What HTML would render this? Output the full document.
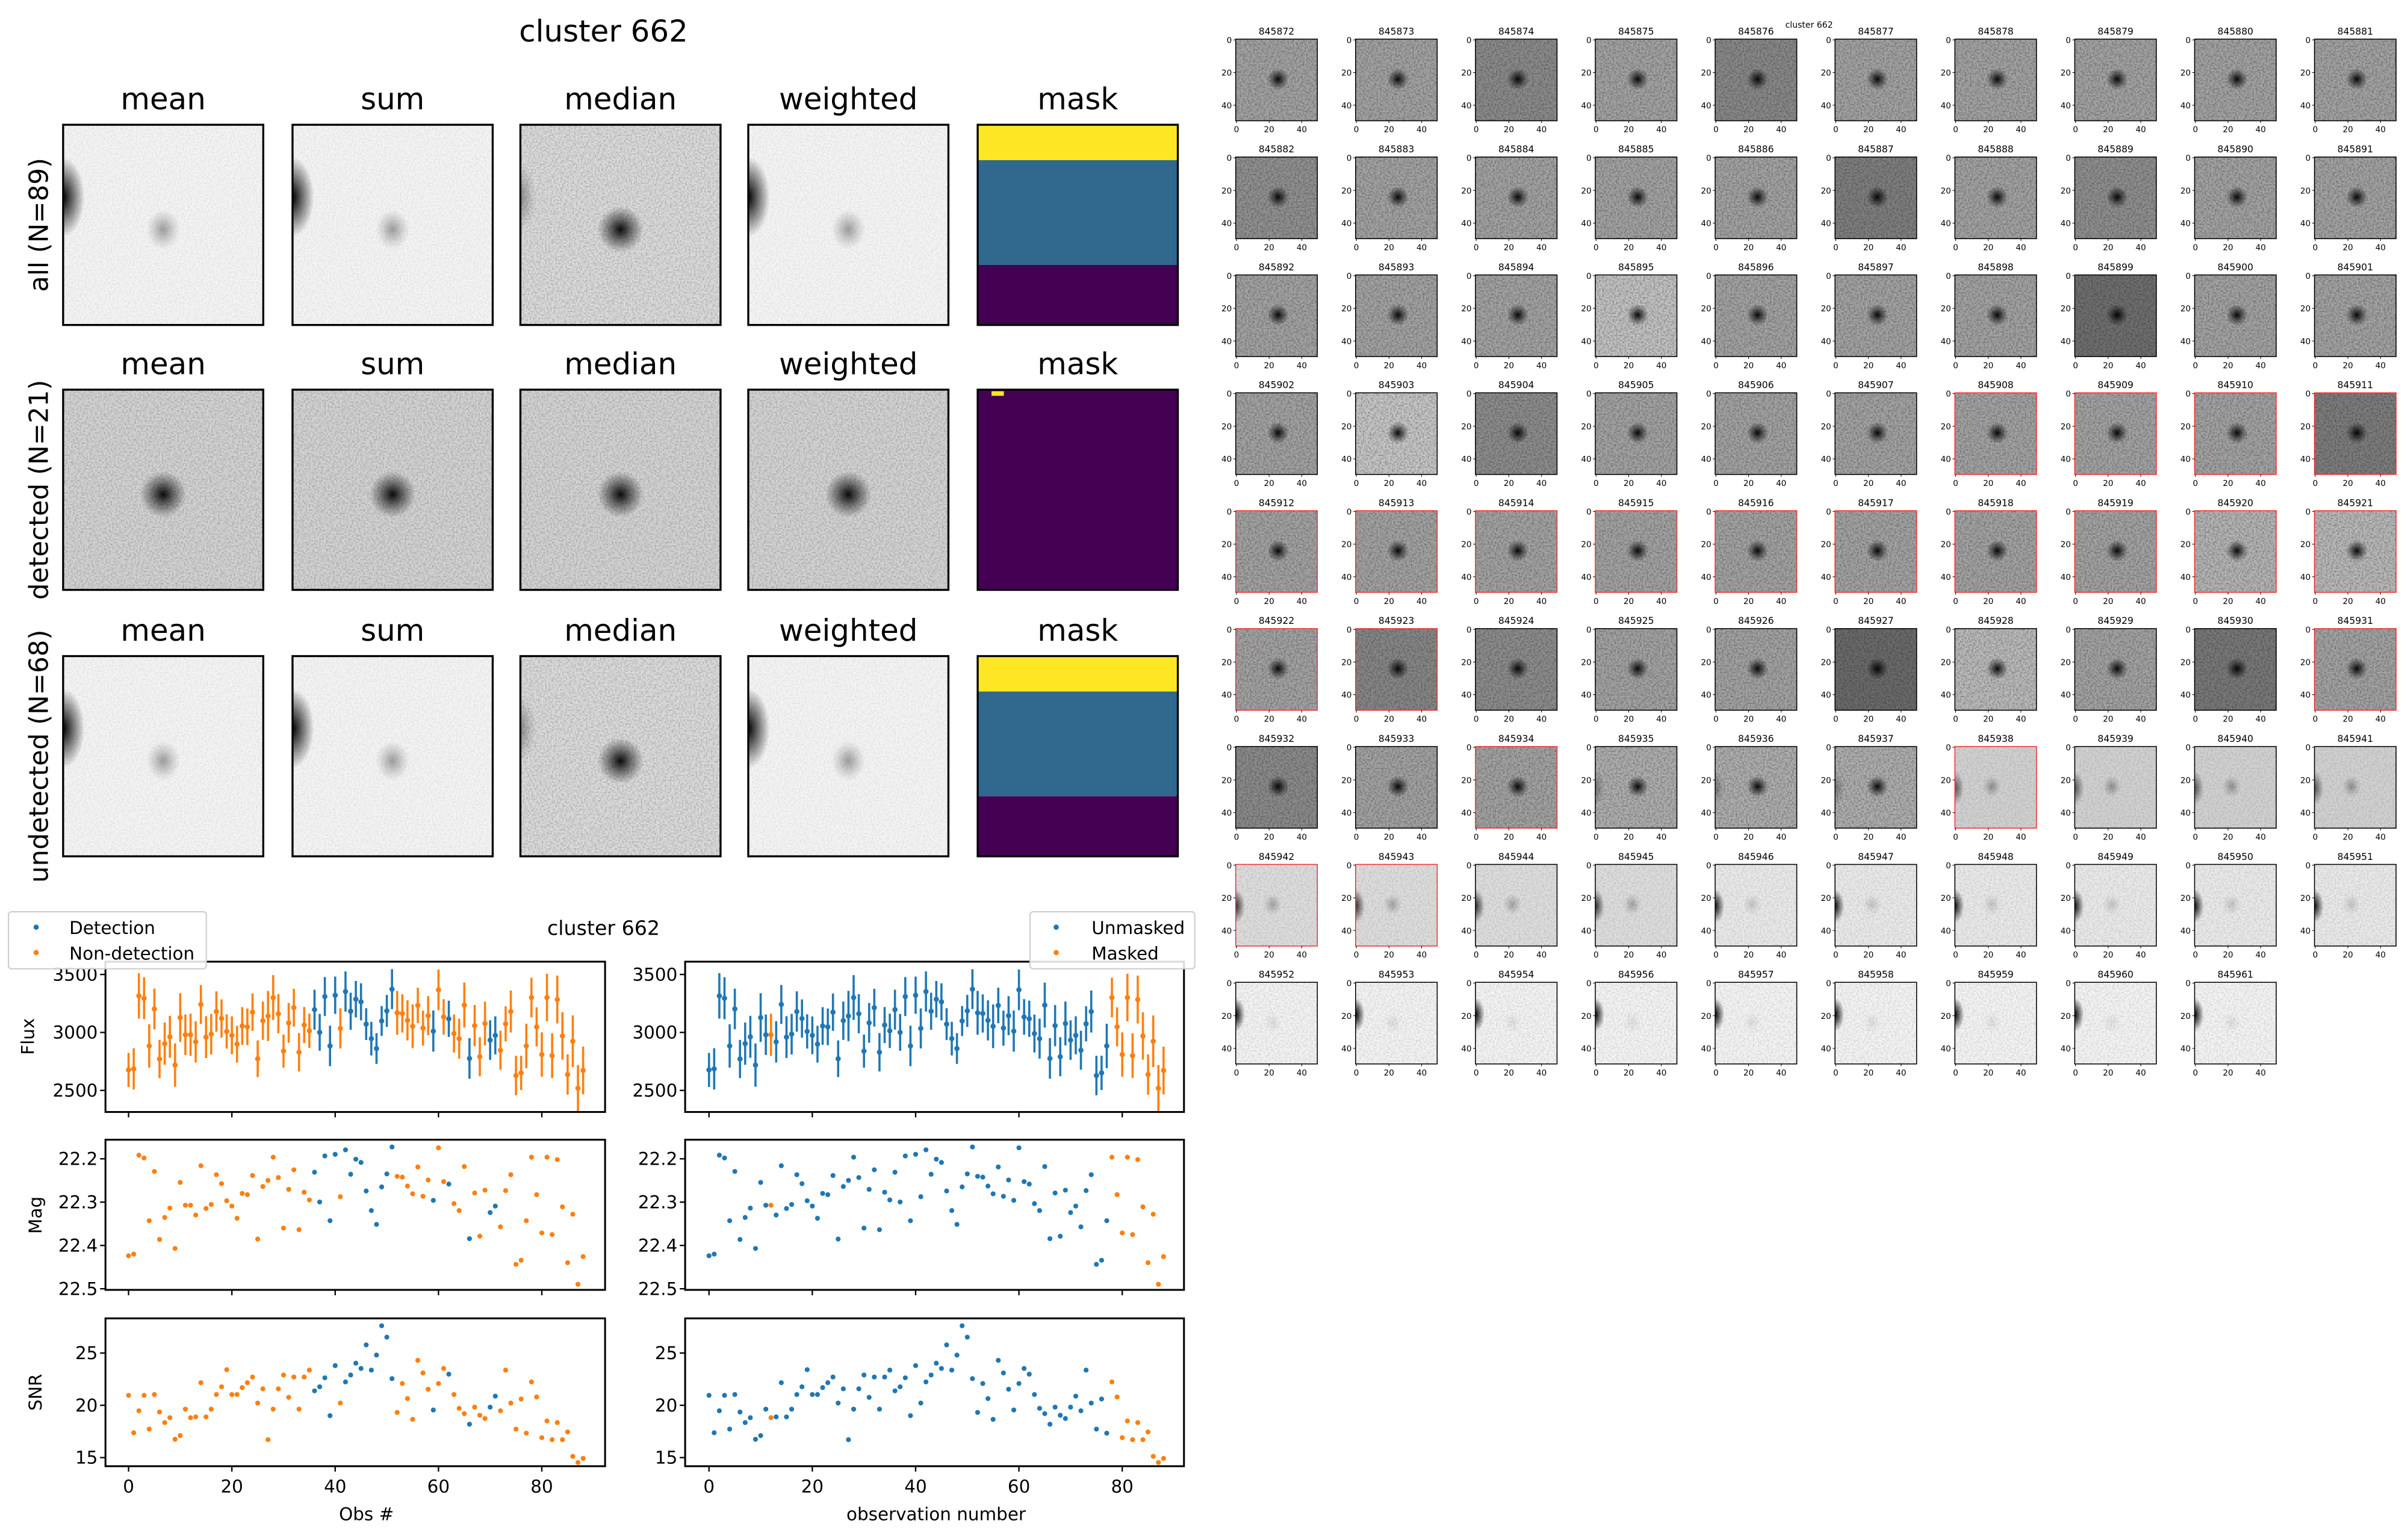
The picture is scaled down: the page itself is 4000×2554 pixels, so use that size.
<!DOCTYPE html>
<html><head><meta charset="utf-8"><style>html,body{margin:0;padding:0;background:#fff}svg{display:block}</style></head>
<body>
<svg id="s" xmlns="http://www.w3.org/2000/svg" width="4000" height="2554" viewBox="0 0 1564 998.6" font-family="DejaVu Sans, Liberation Sans, sans-serif">
<defs>
<radialGradient id="blobD"><stop offset="0" stop-color="#000" stop-opacity="0.95"/><stop offset="0.5" stop-color="#000" stop-opacity="0.45"/><stop offset="1" stop-color="#000" stop-opacity="0"/></radialGradient>
<radialGradient id="blobF"><stop offset="0" stop-color="#000" stop-opacity="0.35"/><stop offset="0.6" stop-color="#000" stop-opacity="0.12"/><stop offset="1" stop-color="#000" stop-opacity="0"/></radialGradient>
<radialGradient id="edge"><stop offset="0" stop-color="#000" stop-opacity="1"/><stop offset="0.5" stop-color="#000" stop-opacity="0.5"/><stop offset="1" stop-color="#000" stop-opacity="0"/></radialGradient>
<filter id="nz" x="0" y="0" width="1" height="1"><feTurbulence type="fractalNoise" baseFrequency="0.9" numOctaves="1" seed="3"/><feColorMatrix type="matrix" values="0 0 0 0 0  0 0 0 0 0  0 0 0 0 0  1.2 0 0 0 -0.45"/></filter>
</defs>
<g id="root"></g>
</svg>
<script>
const root=document.getElementById('root');
let H='',cid=0;
function t(x,y,s,str,anchor,extra){H+=`<text x="${x}" y="${y}" font-size="${s}" text-anchor="${anchor||'middle'}" ${extra||''}>${str}</text>`;}
function clip(x,y,w,h){cid++;H+=`<clipPath id="c${cid}"><rect x="${x}" y="${y}" width="${w}" height="${h}"/></clipPath>`;return `clip-path="url(#c${cid})"`;}
// ---- top-left panel
t(392,27,19.5,'cluster 662');
const cols=[41,190,338,486,635],names=['mean','sum','median','weighted','mask'];
const rows=[81,253,426],rl=['all (N=89)','detected (N=21)','undetected (N=68)'];
rows.forEach((y,ri)=>{
 cols.forEach((x,ci)=>{
  t(x+65,y-10,19.5,names[ci]);
  const w=130,h=130;
  if(ci==4){
   if(ri==1){H+=`<rect x="${x}" y="${y}" width="${w}" height="${h}" fill="#440154"/><rect x="644" y="254" width="8" height="3" fill="#fde725"/>`;}
   else{H+=`<rect x="${x}" y="${y}" width="${w}" height="23" fill="#fde725"/><rect x="${x}" y="${y+23}" width="${w}" height="68" fill="#31688e"/><rect x="${x}" y="${y+91}" width="${w}" height="39" fill="#440154"/>`;}
  } else {
   const light=(ri!=1&&ci!=2);
   const bg=light?'#f4f4f4':(ri==1?'#d4d4d4':'#dcdcdc');
   const cp=clip(x,y,w,h);
   H+=`<g ${cp}><rect x="${x}" y="${y}" width="${w}" height="${h}" fill="${bg}"/>`;
   H+=`<rect x="${x}" y="${y}" width="${w}" height="${h}" filter="url(#nz)" opacity="${light?0.15:0.4}"/>`;
   if(light){H+=`<ellipse cx="${x}" cy="${y+47}" rx="14" ry="26" fill="url(#edge)"/><ellipse cx="${x+65}" cy="${y+68}" rx="11" ry="13" fill="url(#blobF)"/>`;}
   else{H+=`<ellipse cx="${x+65}" cy="${y+68}" rx="15" ry="15" fill="url(#blobD)"/>`; if(ri!=1)H+=`<ellipse cx="${x}" cy="${y+47}" rx="10" ry="22" fill="url(#blobF)"/>`;}
   H+=`</g>`;
  }
  H+=`<rect x="${x}" y="${y}" width="${w}" height="${h}" fill="none" stroke="#000" stroke-width="1.3"/>`;
 });
 t(0,0,17,rl[ri],'middle',`transform="translate(31,${y+65}) rotate(-90)"`);
});
// ---- thumbnails
t(1175,18,5.5,'cluster 662');
let ids=[];for(let i=845872;i<=845951;i++)ids.push(i);[845952,845953,845954,845956,845957,845958,845959,845960,845961].forEach(v=>ids.push(v));
const red=new Set([845908,845909,845910,845911,845912,845913,845914,845915,845916,845917,845918,845919,845920,845921,845922,845923,845931,845934,845938,845942,845943]);
const dark={845874:'#8c8c8c',845876:'#8a8a8a',845887:'#808080',845899:'#707070',845911:'#7e7e7e',845927:'#6c6c6c',845930:'#7a7a7a',845923:'#888',845924:'#8e8e8e',845932:'#8c8c8c',845904:'#8e8e8e',845882:'#929292',845889:'#909090',845895:'#c4c4c4',845903:'#c8c8c8',845928:'#bcbcbc',845921:'#bababa',845920:'#b6b6b6'};
ids.forEach((id,k)=>{
 const r=Math.floor(k/10),c=k%10;const x=802.6+c*77.85,y=25.4+r*76.55,w=53,h=53;
 let bg=dark[id]||'#a4a4a4',edge=0,blob=1;
 if(id>=845935&&id<=845937){bg='#b0b0b0';edge=0.3;blob=0.6;}
 if(id>=845938&&id<=845941){bg='#d2d2d2';edge=0.6;blob=0.3;}
 if(id>=845942&&id<=845945){bg='#dedede';edge=0.8;blob=0.25;}
 if(id>=845946&&id<=845951){bg='#eaeaea';edge=0.95;blob=0.15;}
 if(id>=845952){bg='#f4f4f4';edge=1;blob=0.08;}
 const ey=id>=845952?y+21:y+27;
 H+=`<text x="${x+26.5}" y="${y-3}" font-size="6.1" text-anchor="middle">${id}</text>`;
 const cp=clip(x,y,w,h);
 H+=`<g ${cp}><rect x="${x}" y="${y}" width="${w}" height="${h}" fill="${bg}"/>`;
 H+=`<rect x="${x}" y="${y}" width="${w}" height="${h}" filter="url(#nz)" opacity="${blob>0.5?0.6:0.25}"/>`;
 if(blob>0.5)H+=`<ellipse cx="${x+27.5}" cy="${y+26}" rx="7" ry="7" fill="url(#blobD)"/>`;
 else H+=`<ellipse cx="${x+24}" cy="${y+26}" rx="6" ry="7" fill="url(#blobF)" opacity="${Math.min(1,blob*3)}"/>`;
 if(edge)H+=`<ellipse cx="${x}" cy="${ey}" rx="6" ry="11" fill="url(#edge)" opacity="${edge}"/>`;
 H+=`</g><rect x="${x}" y="${y}" width="${w}" height="${h}" fill="none" stroke="${red.has(id)?'#e33':'#000'}" stroke-width="0.6"/>`;
 [0,20,40].forEach(v=>{const yy=y+0.5+v*1.06,xx=x+0.5+v*1.06;
  H+=`<line x1="${x-1.5}" x2="${x}" y1="${yy}" y2="${yy}" stroke="#000" stroke-width="0.4"/><text x="${x-2.5}" y="${yy+2}" font-size="5.3" text-anchor="end">${v}</text>`;
  H+=`<line x1="${xx}" x2="${xx}" y1="${y+h}" y2="${y+h+1.5}" stroke="#000" stroke-width="0.4"/><text x="${xx}" y="${y+h+7.5}" font-size="5.3" text-anchor="middle">${v}</text>`;});
});
// ---- light curves
const mz=[866,862,619,626,780,659,826,772,749,848,686,742,742,766,645,750,740,667,689,731,744,774,713,716,669,825,696,681,624,674,798,703,655,802,710,729,661,734,621,780,617,721,606,666,629,637,707,755,789,697,665,599,671,673,695,714,648,720,680,730,601,684,690,738,755,647,824,712,818,705,760,744,795,706,667,887,877,780,624,716,810,624,814,630,746,883,764,936,868];
const sz=[1209,1301,1247,1209,1292,1207,1250,1276,1264,1317,1308,1243,1264,1262,1178,1262,1243,1207,1188,1146,1207,1207,1190,1178,1164,1228,1193,1318,1243,1193,1159,1214,1164,1243,1164,1147,1198,1188,1166,1259,1136,1228,1176,1159,1130,1143,1085,1147,1110,1038,1066,1168,1251,1180,1217,1268,1123,1154,1194,1245,1180,1143,1157,1207,1241,1254,1280,1238,1258,1266,1238,1211,1247,1147,1228,1292,1218,1302,1176,1213,1313,1272,1318,1276,1318,1299,1359,1374,1364];
const mag=mz.map(v=>22.2+(v-628)/(947-628)*0.3);
const snr=sz.map(v=>25-(v-1105)/25.7);
const flux=mag.map(m=>3000*Math.pow(10,-0.4*(m-22.3)));
const blueL=new Set([36,37,38,39,40,42,43,44,45,46,47,48,49,50,51,59,62,66,70,71]);
const orangeR=new Set([12,78,79,80,81,82,83,84,85,86,87,88]);
const B='#1f77b4',O='#ff7f0e';
const panels=[{x0:68.5,x1:393,z:83.5},{x0:445,x1:769,z:460.5}];
const yrows=[[624.4,722],[740,837.5],[856,952]];
panels.forEach((p,pi)=>{
 const X=v=>p.z+v*3.355;
 const col=i=>pi==0?(blueL.has(i)?B:O):(orangeR.has(i)?O:B);
 const Yf=f=>632.7+(3500-f)*0.0753, Ym=m=>752.4+(m-22.2)*281.3, Ys=s=>878.5+(25-s)*6.79;
 for(let i=0;i<89;i++){const f=flux[i],e=f/snr[i]*1.15;const c=col(i);
  H+=`<line x1="${X(i)}" x2="${X(i)}" y1="${Yf(f-e)}" y2="${Yf(f+e)}" stroke="${c}" stroke-width="1.4"/><circle cx="${X(i)}" cy="${Yf(f)}" r="1.7" fill="${c}"/>`;
  H+=`<circle cx="${X(i)}" cy="${Ym(mag[i])}" r="1.6" fill="${c}"/><circle cx="${X(i)}" cy="${Ys(snr[i])}" r="1.6" fill="${c}"/>`;}
 yrows.forEach((yr,ri)=>{
  H+=`<rect x="${p.x0}" y="${yr[0]}" width="${p.x1-p.x0}" height="${yr[1]-yr[0]}" fill="none" stroke="#000" stroke-width="1.2"/>`;
  [0,20,40,60,80].forEach(v=>{H+=`<line x1="${X(v)}" x2="${X(v)}" y1="${yr[1]}" y2="${yr[1]+3.5}" stroke="#000" stroke-width="0.9"/>`; if(ri==2)t(X(v),yr[1]+17,11.5,v);});
 });
 const yt=(vals,F)=>vals.forEach(v=>{const yy=F(v);H+=`<line x1="${p.x0-3.5}" x2="${p.x0}" y1="${yy}" y2="${yy}" stroke="#000" stroke-width="0.9"/><text x="${p.x0-5}" y="${yy+4}" font-size="11.5" text-anchor="end">${v>100?v:(v%1?v.toFixed(1):v)}</text>`;});
 yt([2500,3000,3500],Yf);yt([22.2,22.3,22.4,22.5],Ym);yt([15,20,25],Ys);
});
t(0,0,11.5,'Flux','middle','transform="translate(22,673) rotate(-90)"');
t(0,0,11.5,'Mag','middle','transform="translate(27,789) rotate(-90)"');
t(0,0,11.5,'SNR','middle','transform="translate(27,904) rotate(-90)"');
t(238,987,11.5,'Obs #');t(608,987,11.5,'observation number');
t(392,607,13,'cluster 662');
function leg(x0,x1,mx,tx,a,b){H+=`<rect x="${x0}" y="592" width="${x1-x0}" height="37" rx="2" fill="#fff" fill-opacity="0.85" stroke="#ccc" stroke-width="0.8"/>`;
 H+=`<circle cx="${mx}" cy="602" r="1.7" fill="${B}"/><circle cx="${mx}" cy="618.5" r="1.7" fill="${O}"/>`;
 H+=`<text x="${tx}" y="606.5" font-size="11.5">${a}</text><text x="${tx}" y="623" font-size="11.5">${b}</text>`;}
leg(5.5,134,23.5,45,'Detection','Non-detection');
leg(669,776,686,709,'Unmasked','Masked');
root.innerHTML=H;
</script>
</body></html>
